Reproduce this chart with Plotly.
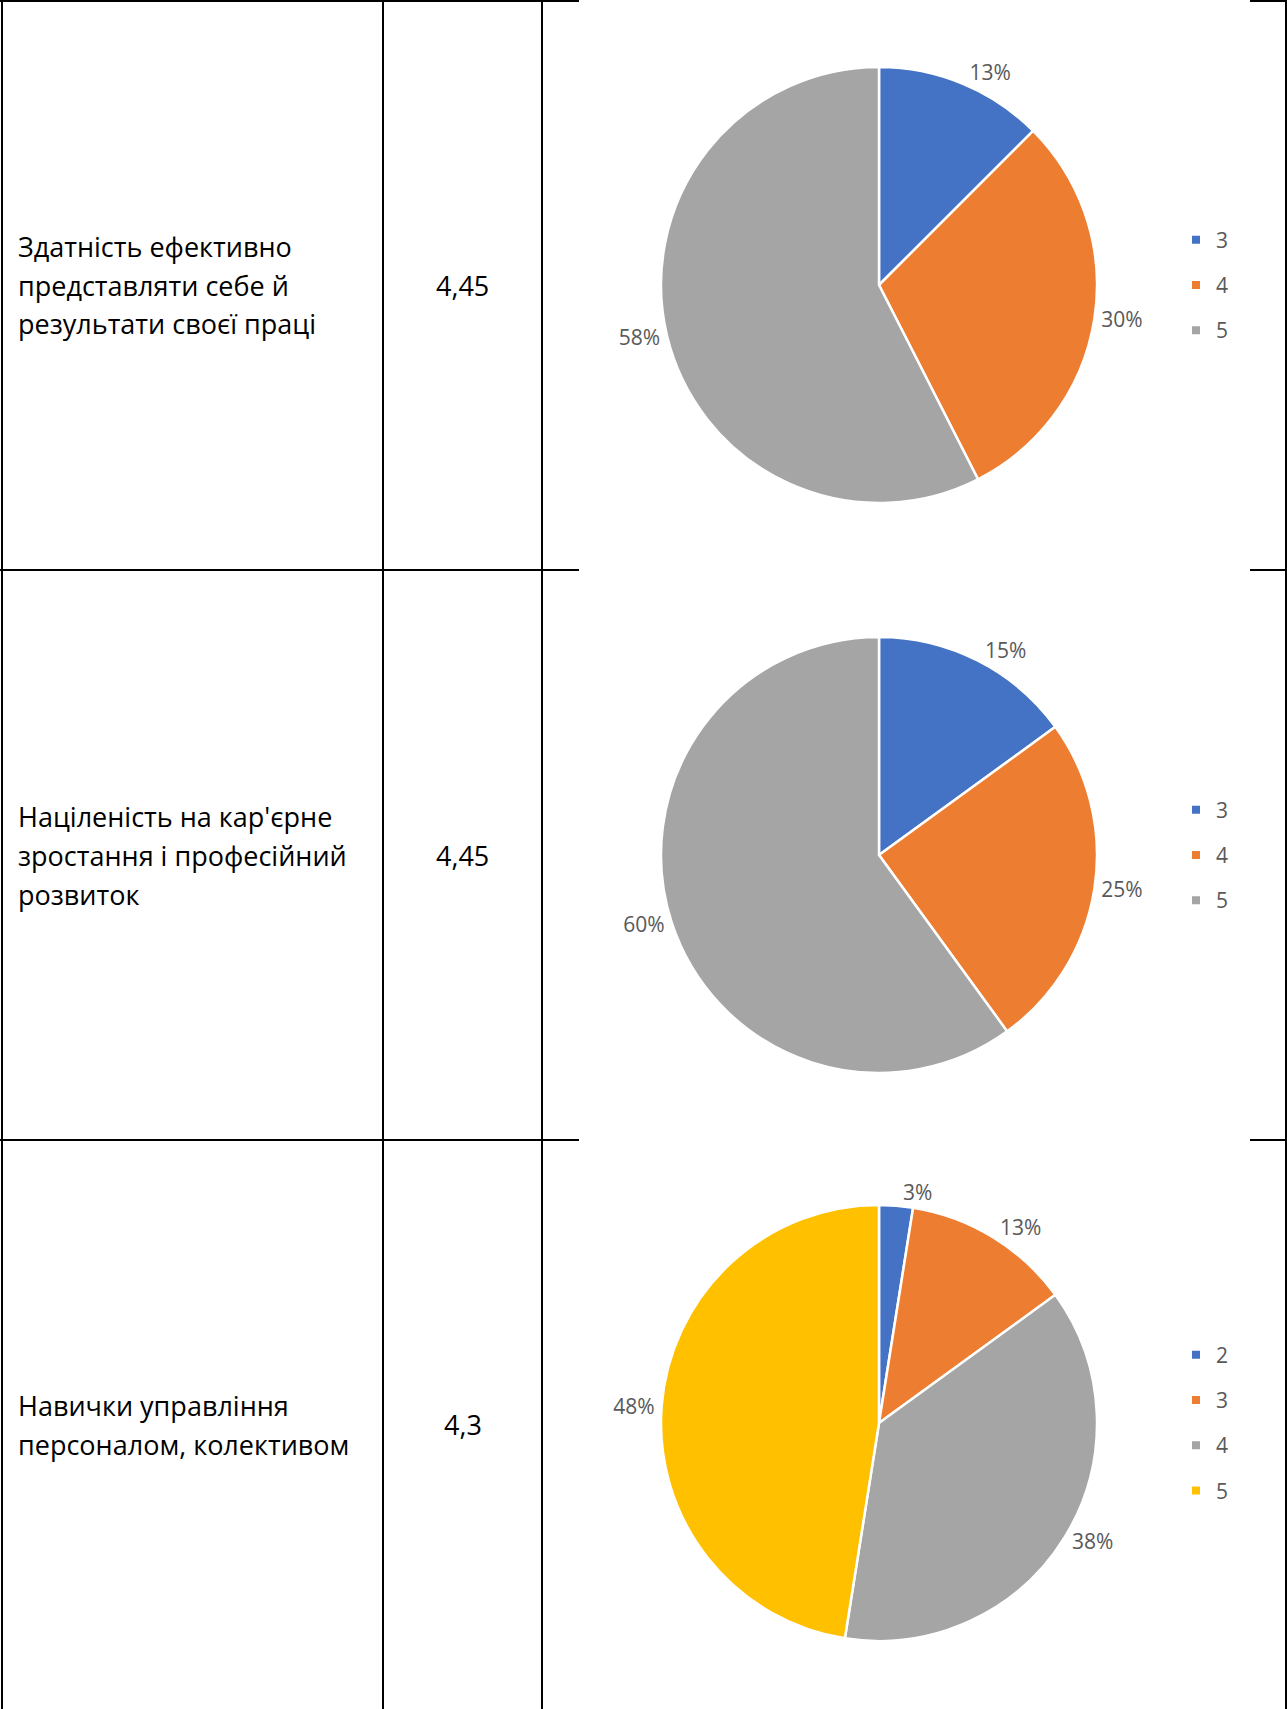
import plotly.graph_objects as go

# ---------------- data ----------------
row_labels = [
    ["Здатність ефективно", "представляти себе й", "результати своєї праці"],
    ["Націленість на кар'єрне", "зростання і професійний", "розвиток"],
    ["Навички управління", "персоналом, колективом"],
]
row_scores = ["4,45", "4,45", "4,3"]

pie1_labels = ["3", "4", "5"]
pie1_values = [5, 12, 23]

pie2_labels = ["3", "4", "5"]
pie2_values = [6, 10, 24]

pie3_labels = ["2", "3", "4", "5"]
pie3_values = [1, 5, 15, 19]

slice_colors = ["#4472C4", "#ED7D31", "#A5A5A5", "#FFC000"]

# ---------------- layout geometry (pixels) ----------------
W, H = 1287, 1709
row_bounds = [0, 570, 1140, 1709]
col_x = [2, 383, 542, 1286]
pie_cx = 879
pie_cy = [285, 855, 1423]
pie_r = 218
legend_x = 1176
FONT = "Open Sans"


def px(x):
    return x / W


def py(y):
    return 1 - y / H


def pct_text(values):
    tot = sum(values)
    return [f"{(200 * v + tot) // (2 * tot)}%" for v in values]


fig = go.Figure()

pies = [(pie1_labels, pie1_values), (pie2_labels, pie2_values), (pie3_labels, pie3_values)]
legend_names = ["legend", "legend2", "legend3"]

for i, (labs, vals) in enumerate(pies):
    fig.add_trace(go.Pie(
        labels=labs, values=vals, text=pct_text(vals), textinfo="text",
        textposition="outside", sort=False, direction="clockwise", rotation=0,
        marker=dict(colors=slice_colors[:len(vals)], line=dict(color="white", width=2.5)),
        outsidetextfont=dict(family=FONT, size=21, color="#595959"),
        domain=dict(x=[px(pie_cx - pie_r), px(pie_cx + pie_r)],
                    y=[py(pie_cy[i] + pie_r), py(pie_cy[i] - pie_r)]),
        showlegend=False, hoverinfo="label+percent",
    ))
    for j, lab in enumerate(labs):
        fig.add_trace(go.Scatter(
            x=[None], y=[None], mode="markers", name=lab,
            marker=dict(symbol="square", size=8, color=slice_colors[j]),
            legend=legend_names[i], legendgroup=f"p{i}_{lab}", showlegend=True,
            hoverinfo="skip",
        ))

# ---------------- table lines ----------------
shapes = []
line = dict(color="black", width=2)
for x in col_x:
    shapes.append(dict(type="line", xref="paper", yref="paper", x0=px(x), x1=px(x),
                       y0=0, y1=1, line=line))
for y in row_bounds[:-1]:
    yy = max(y, 1)
    shapes.append(dict(type="line", xref="paper", yref="paper", x0=0, x1=px(579),
                       y0=py(yy), y1=py(yy), line=line))
    shapes.append(dict(type="line", xref="paper", yref="paper", x0=px(1250), x1=1,
                       y0=py(yy), y1=py(yy), line=line))

# ---------------- table text ----------------
annotations = []
line_gap = 39
for r, lines in enumerate(row_labels):
    center = (row_bounds[r] + row_bounds[r + 1]) / 2
    n = len(lines)
    for k, t in enumerate(lines):
        yc = center + (k - (n - 1) / 2) * line_gap
        annotations.append(dict(text=t, xref="paper", yref="paper", x=px(16), y=py(yc),
                                xanchor="left", yanchor="middle", showarrow=False,
                                font=dict(family=FONT, size=27, color="black")))
    annotations.append(dict(text=row_scores[r], xref="paper", yref="paper",
                            x=px((col_x[1] + col_x[2]) / 2), y=py(center),
                            xanchor="center", yanchor="middle", showarrow=False,
                            font=dict(family=FONT, size=27, color="black")))

leg_common = dict(xanchor="left", yanchor="middle", font=dict(family=FONT, size=21, color="#595959"),
                  bgcolor="rgba(0,0,0,0)", tracegroupgap=15, traceorder="grouped")

fig.update_layout(
    width=W, height=H, autosize=False,
    margin=dict(l=0, r=0, t=0, b=0),
    paper_bgcolor="white", plot_bgcolor="rgba(0,0,0,0)",
    xaxis=dict(visible=False), yaxis=dict(visible=False),
    shapes=shapes, annotations=annotations,
    legend=dict(x=px(legend_x), y=py(pie_cy[0]), **leg_common),
    legend2=dict(x=px(legend_x), y=py(pie_cy[1]), **leg_common),
    legend3=dict(x=px(legend_x), y=py(pie_cy[2]), **leg_common),
)

fig.write_html("out.html", config={"displayModeBar": False},
               post_script="document.body.style.margin='0';")
